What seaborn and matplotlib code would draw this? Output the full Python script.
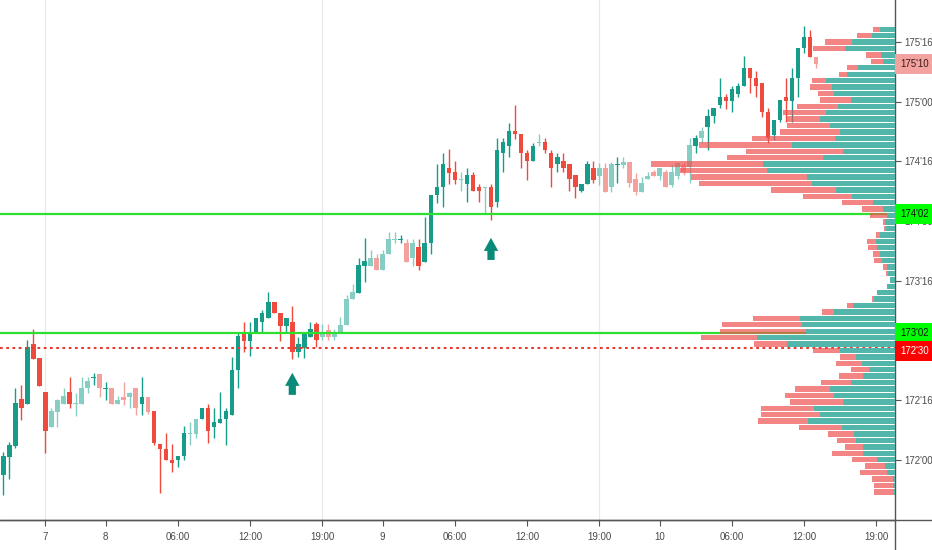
import numpy as np
import pandas as pd
import seaborn as sns
import matplotlib.pyplot as plt
from matplotlib.transforms import blended_transform_factory, offset_copy


# 30 min candles, T-bond future (prices in points, shown in 32nds)
opens = [171.874, 172.025, 172.117, 172.510, 172.469, 172.971, 172.854, 172.569, 172.276, 172.402,
         172.469, 172.569, 172.469, 172.469, 172.603, 172.686, 172.720, 172.594, 172.603, 172.469,
         172.527, 172.527, 172.603, 172.469, 172.527, 172.410, 172.134, 172.092, 172.000, 172.000,
         172.033, 172.217, 172.217, 172.343, 172.435, 172.276, 172.309, 172.343, 172.376, 172.753,
         173.063, 172.996, 173.063, 173.155, 173.189, 173.323, 173.231, 173.122, 173.155, 172.904,
         172.938, 173.030, 173.139, 173.030, 173.088, 173.030, 173.063, 173.130, 173.348, 173.398,
         173.624, 173.624, 173.691, 173.591, 173.725, 173.842, 173.842, 173.817, 173.691, 173.783,
         173.658, 173.817, 174.219, 174.286, 174.445, 174.412, 174.345, 174.311, 174.386, 174.286,
         174.278, 174.286, 174.160, 174.571, 174.629, 174.755, 174.730, 174.571, 174.504, 174.654,
         174.663, 174.571, 174.478, 174.504, 174.478, 174.386, 174.252, 174.311, 174.445, 174.378,
         174.445, 174.286, 174.470, 174.470, 174.495, 174.353, 174.244, 174.353, 174.412, 174.378,
         174.412, 174.303, 174.378, 174.470, 174.453, 174.629, 174.696, 174.788, 174.881, 174.973,
         175.040, 175.006, 175.065, 175.132, 175.283, 175.199, 175.157, 174.914, 174.721, 174.847,
         175.040, 175.006, 175.199, 175.450, 175.542, 175.375]
highs = [172.067, 172.150, 172.603, 172.628, 173.005, 173.097, 172.854, 172.569, 172.435, 172.510,
         172.603, 172.695, 172.561, 172.695, 172.695, 172.728, 172.720, 172.653, 172.603, 172.536,
         172.653, 172.569, 172.603, 172.695, 172.527, 172.410, 172.134, 172.226, 172.134, 172.033,
         172.284, 172.318, 172.343, 172.435, 172.469, 172.435, 172.569, 172.435, 172.862, 173.063,
         173.155, 173.155, 173.189, 173.256, 173.406, 173.323, 173.231, 173.189, 173.289, 173.030,
         173.072, 173.155, 173.155, 173.139, 173.139, 173.097, 173.197, 173.381, 173.473, 173.691,
         173.859, 173.758, 173.725, 173.758, 173.909, 173.909, 173.884, 173.850, 173.850, 173.850,
         174.035, 174.219, 174.478, 174.571, 174.604, 174.504, 174.412, 174.445, 174.412, 174.311,
         174.286, 174.311, 174.696, 174.696, 174.822, 174.973, 174.730, 174.596, 174.654, 174.730,
         174.696, 174.596, 174.571, 174.571, 174.478, 174.386, 174.311, 174.504, 174.504, 174.487,
         174.487, 174.495, 174.537, 174.537, 174.495, 174.403, 174.370, 174.412, 174.428, 174.445,
         174.428, 174.470, 174.487, 174.495, 174.696, 174.721, 174.788, 174.939, 174.948, 175.199,
         175.065, 175.132, 175.157, 175.383, 175.283, 175.257, 175.157, 174.948, 174.847, 175.015,
         175.199, 175.283, 175.450, 175.634, 175.601, 175.375]
lows = [171.706, 171.840, 172.100, 172.335, 172.469, 172.845, 172.619, 172.058, 172.276, 172.276,
        172.469, 172.435, 172.368, 172.469, 172.561, 172.628, 172.527, 172.502, 172.469, 172.469,
        172.460, 172.435, 172.376, 172.376, 172.385, 172.125, 171.723, 172.000, 171.899, 171.941,
        172.000, 172.125, 172.184, 172.343, 172.142, 172.184, 172.309, 172.125, 172.376, 172.603,
        172.904, 172.871, 173.063, 173.063, 173.189, 173.231, 172.996, 173.063, 172.845, 172.862,
        172.854, 173.030, 172.946, 173.005, 173.005, 173.005, 173.063, 173.130, 173.348, 173.398,
        173.490, 173.624, 173.591, 173.591, 173.725, 173.817, 173.817, 173.658, 173.624, 173.591,
        173.658, 173.725, 174.152, 174.118, 174.311, 174.311, 174.252, 174.160, 174.252, 174.160,
        174.068, 174.010, 174.118, 174.412, 174.537, 174.688, 174.445, 174.345, 174.504, 174.629,
        174.571, 174.286, 174.412, 174.412, 174.252, 174.194, 174.244, 174.311, 174.319, 174.303,
        174.244, 174.244, 174.319, 174.445, 174.286, 174.219, 174.244, 174.353, 174.378, 174.345,
        174.286, 174.286, 174.353, 174.386, 174.319, 174.571, 174.654, 174.596, 174.822, 174.948,
        174.939, 174.914, 175.040, 175.132, 175.073, 175.040, 174.872, 174.654, 174.680, 174.830,
        174.830, 174.830, 175.040, 175.408, 175.375, 175.283]
closes = [172.033, 172.125, 172.477, 172.435, 172.946, 172.845, 172.619, 172.242, 172.410, 172.502,
          172.536, 172.469, 172.477, 172.603, 172.661, 172.695, 172.603, 172.603, 172.469, 172.502,
          172.502, 172.561, 172.435, 172.527, 172.402, 172.142, 172.092, 172.000, 171.974, 172.033,
          172.226, 172.226, 172.343, 172.435, 172.242, 172.318, 172.343, 172.410, 172.753, 173.038,
          172.996, 173.063, 173.189, 173.231, 173.323, 173.231, 173.122, 173.189, 172.904, 172.971,
          173.063, 173.097, 173.005, 173.063, 173.030, 173.063, 173.130, 173.348, 173.406, 173.633,
          173.666, 173.691, 173.591, 173.725, 173.850, 173.850, 173.850, 173.658, 173.817, 173.624,
          173.817, 174.219, 174.286, 174.478, 174.403, 174.345, 174.353, 174.386, 174.252, 174.252,
          174.286, 174.118, 174.596, 174.663, 174.755, 174.730, 174.571, 174.504, 174.629, 174.663,
          174.596, 174.445, 174.537, 174.445, 174.353, 174.286, 174.311, 174.478, 174.345, 174.445,
          174.244, 174.478, 174.478, 174.495, 174.319, 174.244, 174.319, 174.378, 174.378, 174.445,
          174.286, 174.412, 174.487, 174.412, 174.638, 174.696, 174.755, 174.881, 174.948, 175.040,
          175.006, 175.107, 175.132, 175.283, 175.199, 175.132, 174.914, 174.696, 174.847, 175.015,
          175.006, 175.199, 175.450, 175.542, 175.375, 175.316]
# candles drawn in the pale shade
faded = [8, 9, 10, 12, 13, 14, 16, 18, 19, 20, 21, 22, 24, 31, 32, 53, 54, 55, 56, 57, 58,
         61, 62, 63, 64, 65, 67, 68, 76, 80, 89, 99, 100, 101, 103, 104, 105, 106, 107, 108,
         109, 110, 111, 112, 113, 114, 116, 135]

# volume profile rows, top row first
up_vol = [15, 23, 43, 50, 14, 12, 37, 48, 69, 63, 61, 44, 57, 69, 75, 65, 55, 60, 103, 52,
          72, 132, 128, 88, 83, 59, 43, 22, 12, 8, 10, 9, 15, 19, 18, 15, 13, 8, 7, 5,
          8, 18, 21, 42, 61, 95, 93, 89, 138, 108, 55, 39, 33, 26, 32, 44, 65, 61, 52, 81,
          75, 87, 53, 41, 39, 32, 32, 18, 10, 8, 2, 2, 1]
down_vol = [7, 15, 27, 32, 15, 12, 11, 8, 14, 22, 16, 31, 41, 43, 34, 43, 60, 83, 93, 97,
            96, 112, 87, 116, 113, 65, 49, 31, 21, 17, 2, 2, 4, 9, 9, 7, 8, 4, 2, 0,
            0, 0, 2, 6, 12, 47, 80, 86, 56, 33, 27, 16, 26, 18, 24, 30, 35, 49, 53, 53,
            59, 50, 43, 26, 19, 18, 31, 25, 20, 27, 21, 19, 20]

tick_pos = [7, 17, 29, 41, 53, 63, 75, 87, 99, 109, 121, 133, 145]
tick_lab = ['7', '8', '06:00', '12:00', '19:00', '9', '06:00', '12:00', '19:00',
            '10', '06:00', '12:00', '19:00']
session_breaks = [7, 53, 99]

green_levels = [174.0625, 173.0625]
red_level = 172.9375
arrow_x = [48, 81]
arrow_tip = [172.73, 173.86]
arrow_base = [172.545, 173.675]


def fmt32(p):
    whole = int(p)
    t = int(round((p - whole) * 32))
    if t == 32:
        whole, t = whole + 1, 0
    return f"{whole}'{t:02d}"


sns.set_theme(style="white")
plt.rcParams['font.family'] = ['Liberation Sans', 'DejaVu Sans']

UP, DOWN = '#179c8a', '#ee4b3e'
UP_L, DOWN_L = '#86cec3', '#f3a19c'
TXT = '#4a4a4a'

fig = plt.figure(figsize=(9.32, 5.5), dpi=100)
ax = fig.add_axes([0, 30 / 550, 895 / 932, 520 / 550])

o, h, l, c = map(np.array, (opens, highs, lows, closes))
idx = np.arange(len(o))
rising = c >= o
weak = np.isin(idx, faded)
cols = np.where(rising, np.where(weak, UP_L, UP), np.where(weak, DOWN_L, DOWN))

for x in session_breaks:
    ax.axvline(x, color='#e9e9e9', lw=0.9, zorder=0)

ax.vlines(idx, l, h, colors=cols, lw=1, zorder=2)
ax.bar(idx, np.maximum(np.abs(c - o), 0.009), bottom=np.minimum(o, c),
       width=0.76, color=cols, linewidth=0, zorder=3)

for lvl in green_levels:
    ax.axhline(lvl, color='#2ee02e', lw=1.6, zorder=4)
ax.axhline(red_level, color='#e8392f', lw=1.5, ls=(0, (1.3, 1.7)), zorder=4)

for x, tip, base in zip(arrow_x, arrow_tip, arrow_base):
    ax.annotate('', xy=(x, tip), xytext=(x, base), zorder=5,
                arrowprops=dict(arrowstyle='simple,head_length=0.47,head_width=0.52,tail_width=0.26',
                                mutation_scale=20, color='#0a8a78', shrinkA=0, shrinkB=0, lw=0))

ax.set_xlim(-0.55, 148.1)
ax.set_ylim(171.497, 175.852)
ax.set_xticks(tick_pos)
ax.set_xticklabels(tick_lab)
yt = np.arange(172.0, 175.51, 0.5)
ax.yaxis.tick_right()
ax.set_yticks(yt)
ax.set_yticklabels([fmt32(p) for p in yt])
ax.tick_params(axis='both', direction='out', length=4, width=0.8, color='#555555',
               labelcolor=TXT, labelsize=7)
ax.tick_params(axis='x', bottom=True, pad=5)
ax.tick_params(axis='y', right=True, left=False, pad=2.5)
for s in ['top', 'left']:
    ax.spines[s].set_visible(False)
for s in ['bottom', 'right']:
    ax.spines[s].set_color('#555555')
    ax.spines[s].set_linewidth(1)
ax.plot([0, 932 / 895], [0, 0], transform=ax.transAxes, clip_on=False, color='#555555', lw=1)
ax.plot([1, 1], [-30 / 520, 0], transform=ax.transAxes, clip_on=False, color='#555555', lw=1)

# volume profile on a twin axis, bars growing leftwards from the price scale
ax2 = ax.twiny()
edges = np.linspace(l.min(), h.max(), len(up_vol) + 1)
centers = ((edges[:-1] + edges[1:]) / 2)[::-1]
prof = pd.DataFrame({'price': centers, 'up': up_vol,
                     'total': np.array(up_vol) + np.array(down_vol)})
sns.barplot(data=prof, x='total', y='price', orient='y', native_scale=True, width=0.84,
            color='#ef5350', saturation=1, alpha=0.7, errorbar=None, linewidth=0, ax=ax2)
sns.barplot(data=prof, x='up', y='price', orient='y', native_scale=True, width=0.84,
            color='#52b6ab', saturation=1, errorbar=None, linewidth=0, ax=ax2)
ax2.set_xlim(prof['total'].max() / 0.2726, 0)
ax.set_ylim(171.497, 175.852)
ax2.xaxis.set_visible(False)
ax2.set_xlabel('')
ax2.set_ylabel('')
for s in ax2.spines.values():
    s.set_visible(False)

# price tags on the scale (the red one is nudged down so the two tags sit edge to edge)
tr = blended_transform_factory(ax2.transAxes, ax2.transData)
tags = [(closes[-1], '#f2a3a0', '#3a1a1a', 0),
        (green_levels[0], '#00ff00', '#111111', 0),
        (green_levels[1], '#00ff00', '#111111', 0),
        (red_level, '#ff0000', '#ffffff', -3)]
for p, bg, fg, dy in tags:
    ax2.text(1 + 5 / 895, p, fmt32(p), ha='left', va='center',
             transform=offset_copy(tr, fig=fig, y=dy, units='dots'),
             fontsize=7, color=fg, zorder=10, clip_on=False,
             bbox=dict(boxstyle='square,pad=0.5', facecolor=bg, edgecolor='none'))

fig.savefig('out.png', dpi=100)
